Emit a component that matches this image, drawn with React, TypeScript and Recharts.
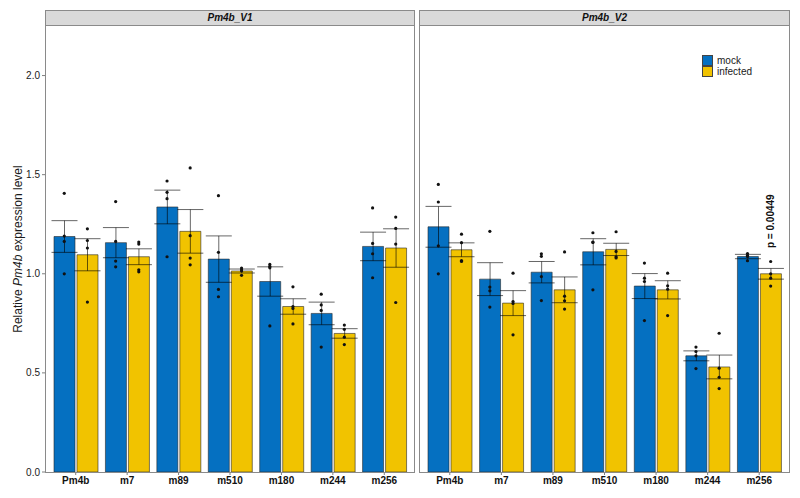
import React from 'react';
import {
  ComposedChart, Bar, ErrorBar, Scatter, XAxis, YAxis, Legend, ReferenceDot, Label,
} from 'recharts';

// relative expression, mean / SE / single replicates
const genes = ['Pm4b', 'm7', 'm89', 'm510', 'm180', 'm244', 'm256'];
const yTicks = [0, 0.5, 1, 1.5, 2];

const v1MockMean = [1.188, 1.157, 1.337, 1.074, 0.961, 0.8, 1.138];
const v1MockSe = [0.08, 0.076, 0.085, 0.117, 0.074, 0.057, 0.072];
const v1InfMean = [1.096, 1.086, 1.214, 1.014, 0.835, 0.699, 1.13];
const v1InfSe = [0.081, 0.04, 0.11, 0.01, 0.039, 0.024, 0.097];

const v2MockMean = [1.237, 0.973, 1.008, 1.111, 0.938, 0.586, 1.087];
const v2MockSe = [0.103, 0.083, 0.054, 0.066, 0.063, 0.025, 0.011];
const v2InfMean = [1.121, 0.852, 0.919, 1.123, 0.919, 0.53, 1.0];
const v2InfSe = [0.035, 0.063, 0.065, 0.031, 0.046, 0.06, 0.027];

const v1MockPts = [
  [1.406, 1.19, 1.163, 1.0], [1.364, 1.163, 1.064, 1.035], [1.468, 1.411, 1.379, 1.086],
  [1.394, 1.108, 0.921, 0.884], [1.047, 1.037, 1.03, 0.737], [0.897, 0.843, 0.815, 0.63],
  [1.332, 1.153, 1.101, 0.98],
];
const v1InfPts = [
  [1.227, 1.168, 1.13, 0.857], [1.16, 1.15, 1.02, 1.01], [1.534, 1.192, 1.079, 1.045],
  [1.029, 1.02, 1.014, 0.992], [0.934, 0.835, 0.825, 0.747], [0.741, 0.72, 0.68, 0.643],
  [1.286, 1.229, 1.15, 0.855],
];
const v2MockPts = [
  [1.451, 1.362, 1.141, 1.0], [1.214, 0.933, 0.914, 0.832], [1.101, 1.088, 0.986, 0.865],
  [1.207, 1.16, 1.158, 0.919], [1.054, 0.978, 0.961, 0.764], [0.63, 0.608, 0.586, 0.522],
  [1.102, 1.092, 1.087, 1.066],
];
const v2InfPts = [
  [1.2, 1.157, 1.067, 1.062], [1.003, 0.86, 0.85, 0.692], [1.11, 0.887, 0.864, 0.822],
  [1.212, 1.113, 1.086, 1.08], [1.003, 0.939, 0.922, 0.789], [0.7, 0.524, 0.478, 0.421],
  [1.062, 1.0, 0.978, 0.938],
];

const pValueText = 'p = 0.00449';
const pValueGene = 6;
const pValueY = 1.13;

const FONT = '"Liberation Sans", Arial, sans-serif';
const BLUE = '#0570C1';
const YELLOW = '#F1C300';
const DODGE = 0.225;

const buildRows = (mockMean: number[], mockSe: number[], infMean: number[], infSe: number[]) =>
  genes.map((g, i) => ({ gene: g, mock: mockMean[i], mockSe: mockSe[i], infected: infMean[i], infectedSe: infSe[i] }));

const buildPts = (pts: number[][], shift: number) =>
  pts.flatMap((vals, i) => vals.map((v) => ({ x: i + shift, y: v })));

const dot = (p: any) => <circle cx={p.cx} cy={p.cy} r={1.6} fill="#111" />;

const YLabel = (props: any) => {
  const vb = props.viewBox;
  const cy = vb.y + vb.height / 2;
  return (
    <text x={18} y={cy} transform={`rotate(-90 18 ${cy})`} textAnchor="middle"
      dominantBaseline="central" fontSize={12} fill="#1a1a1a" fontFamily={FONT}>
      Relative <tspan fontStyle="italic">Pm4b</tspan> expression level
    </text>
  );
};

const LegendBox = () => (
  <div style={{ fontFamily: FONT, fontSize: 10, color: '#1a1a1a', lineHeight: '11px' }}>
    {[['mock', BLUE], ['infected', YELLOW]].map(([name, col]) => (
      <div key={name} style={{ display: 'flex', alignItems: 'center', height: 11 }}>
        <span style={{ width: 9, height: 9, background: col, border: '1px solid #444', marginRight: 4 }} />
        <span>{name}</span>
      </div>
    ))}
  </div>
);

interface PanelProps {
  rows: any[];
  mockPts: any[];
  infPts: any[];
  showY: boolean;
  width: number;
  right: number;
  extra?: React.ReactNode;
}

function Panel({ rows, mockPts, infPts, showY, width, right, extra }: PanelProps) {
  return (
    <ComposedChart width={width} height={498} data={rows}
      margin={{ top: 26, right, bottom: 0, left: 0 }} barGap={2}>
      <XAxis dataKey="gene" padding={{ left: 5, right: 5 }} height={26} axisLine={false}
        tickLine={{ stroke: '#7f7f7f' }} tickSize={3} interval={0}
        tick={{ fontSize: 10, fontWeight: 'bold', fill: '#111', fontFamily: FONT }} />
      <XAxis xAxisId="pt" dataKey="x" type="number" domain={[-0.6, 6.6]} allowDataOverflow hide />
      <YAxis domain={[0, 2.25]} ticks={yTicks} hide={!showY} width={showY ? 45 : 0}
        axisLine={false} tickLine={{ stroke: '#7f7f7f' }} tickSize={3} allowDataOverflow
        tickFormatter={(v: number) => v.toFixed(1)}
        tick={{ fontSize: 10, fill: '#1a1a1a', fontFamily: FONT }}>
        {showY && <Label content={<YLabel />} />}
      </YAxis>
      <Bar dataKey="mock" fill={BLUE} stroke="#2a2a2a" strokeWidth={0.6} barSize={21} isAnimationActive={false}>
        <ErrorBar dataKey="mockSe" width={13} stroke="rgba(0,0,0,0.6)" strokeWidth={1} />
      </Bar>
      <Bar dataKey="infected" fill={YELLOW} stroke="#2a2a2a" strokeWidth={0.6} barSize={21} isAnimationActive={false}>
        <ErrorBar dataKey="infectedSe" width={13} stroke="rgba(0,0,0,0.6)" strokeWidth={1} />
      </Bar>
      <Scatter xAxisId="pt" data={mockPts} dataKey="y" shape={dot} isAnimationActive={false} />
      <Scatter xAxisId="pt" data={infPts} dataKey="y" shape={dot} isAnimationActive={false} />
      {extra}
    </ComposedChart>
  );
}

const Strip = ({ left, width, text }: { left: number; width: number; text: string }) => (
  <div style={{
    position: 'absolute', left, top: 10, width, height: 16, boxSizing: 'border-box',
    background: '#D9D9D9', border: '1px solid #8a8a8a', fontFamily: FONT, fontSize: 10,
    fontWeight: 'bold', fontStyle: 'italic', textAlign: 'center', lineHeight: '14px', color: '#111',
  }}>{text}</div>
);

const Frame = ({ left, width }: { left: number; width: number }) => (
  <div style={{
    position: 'absolute', left, top: 26, width, height: 447, boxSizing: 'border-box',
    border: '1px solid #8a8a8a', borderTop: 'none', pointerEvents: 'none',
  }} />
);

export default function App() {
  const rows1 = buildRows(v1MockMean, v1MockSe, v1InfMean, v1InfSe);
  const rows2 = buildRows(v2MockMean, v2MockSe, v2InfMean, v2InfSe);
  const pLabel = (
    <ReferenceDot key="p" xAxisId="pt" x={pValueGene + DODGE} y={pValueY} r={0}
      shape={(p: any) => (
        <text x={p.cx} y={p.cy} transform={`rotate(-90 ${p.cx} ${p.cy})`} textAnchor="start"
          dominantBaseline="central" fontSize={10} fontWeight="bold" fill="#111" fontFamily={FONT}>
          {pValueText}
        </text>
      )} />
  );
  const legend = (
    <Legend key="l" layout="vertical" align="center" verticalAlign="middle" content={<LegendBox />}
      wrapperStyle={{ left: 283, top: 55, width: 'auto' }} />
  );
  return (
    <div style={{ position: 'fixed', left: 0, top: 0, width: 800, height: 498, background: '#fff' }}>
      <div style={{ position: 'absolute', left: 0, top: 0 }}>
        <Panel rows={rows1} mockPts={buildPts(v1MockPts, -DODGE)} infPts={buildPts(v1InfPts, DODGE)}
          showY width={420} right={5} />
      </div>
      <div style={{ position: 'absolute', left: 419, top: 0 }}>
        <Panel rows={rows2} mockPts={buildPts(v2MockPts, -DODGE)} infPts={buildPts(v2InfPts, DODGE)}
          showY={false} width={381} right={10} extra={[pLabel, legend]} />
      </div>
      <Strip left={45} width={370} text="Pm4b_V1" />
      <Strip left={419} width={371} text="Pm4b_V2" />
      <Frame left={45} width={370} />
      <Frame left={419} width={371} />
    </div>
  );
}
